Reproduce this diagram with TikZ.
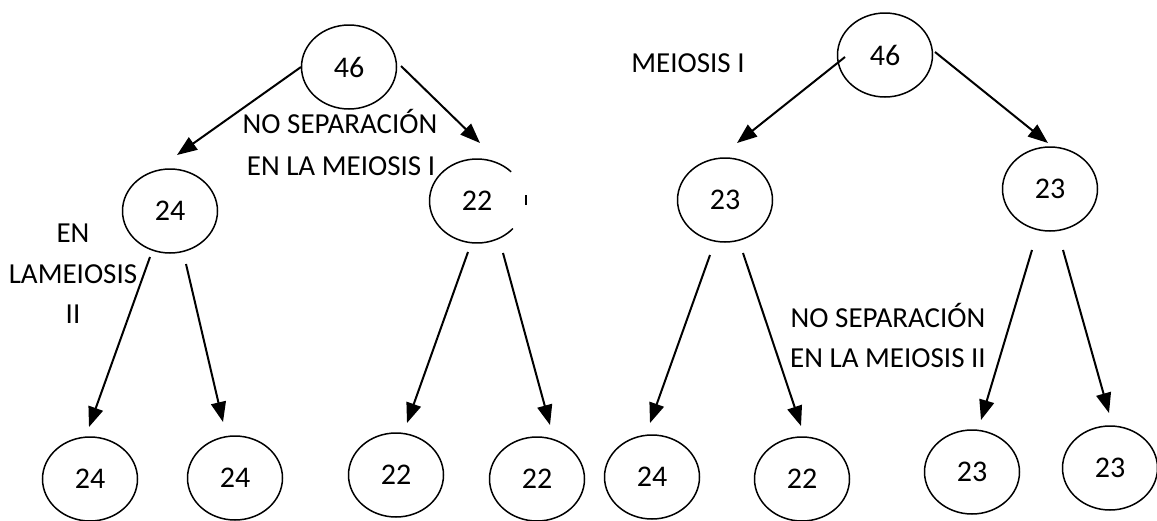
\documentclass[tikz,border=0pt]{standalone}
\usepackage{fontspec}
\setmainfont{Carlito}
\usetikzlibrary{arrows.meta,calc,shapes.geometric}
\tikzset{
  ell/.style={ellipse, draw, line width=1.5pt, minimum width=95pt, minimum height=84pt, inner sep=0pt, font=\fontsize{30}{32}\selectfont},
  ellnd/.style={ell, draw=none},
  circline/.style={line width=1.5pt},
  lbl/.style={inner sep=0pt, anchor=base, font=\fontsize{29}{31}\selectfont},
  arr/.style={line width=2pt, -{Triangle[length=20pt,width=15pt]}}
}
\begin{document}
\begin{tikzpicture}[x=1pt,y=-1pt]
\useasboundingbox (0,0) rectangle (1157,520);
% ellipses
\node[ell] (t1) at (349,67) {46};
\node[ell] (m1) at (170,211) {24};
\node[ellnd] (m2) at (477,201) {22};
\node[ell] (t2) at (885,55) {46};
\node[ell] (m3) at (725,200) {23};
\node[ell] (m4) at (1050,189) {23};
\node[ell] (b1) at (90,479) {24};
\node[ell] (b2) at (235,478) {24};
\node[ell] (b3) at (396,475) {22};
\node[ell] (b4) at (537,479) {22};
\node[ell] (b5) at (652,477) {24};
\node[ell] (b6) at (802,479) {22};
\node[ell] (b7) at (972,472) {23};
\node[ell] (b8) at (1110,468) {23};
% partial outline of m2
\draw[circline] (m2.center) ++(-44:47.5 and 42) arc[start angle=-44, end angle=-319, x radius=47.5, y radius=42];
\draw[circline] ($(m2.center)+(49,-6)$) -- ++(0,10);
% labels
\node[lbl] (l1) at (340,133) {NO SEPARACIÓN};
\node[lbl] (l2) at (341,175) {EN LA MEIOSIS I};
\node[lbl] (l3) at (688,72) {MEIOSIS I};
\node[lbl] (l4) at (73,242) {EN};
\node[lbl] (l5) at (73,283) {LAMEIOSIS};
\node[lbl] (l6) at (73,323) {II};
\node[lbl] (l7) at (888,327) {NO SEPARACIÓN};
\node[lbl] (l8) at (888,367) {EN LA MEIOSIS II};
% arrows
\draw[arr] ($(t1.center)+(-48,0)$) -- ($(m1.center)+(7,-56)$);
\draw[arr] ($(t1.center)+(52,-1)$) -- ($(m2.center)+(3,-58)$);
\draw[arr] ($(m1.center)+(-20,46)$) -- ($(b1.center)+(-1,-52)$);
\draw[arr] ($(m1.center)+(16,53)$) -- ($(b2.center)+(-12,-56)$);
\draw[arr] ($(m2.center)+(-9,51)$) -- ($(b3.center)+(11,-52)$);
\draw[arr] ($(m2.center)+(26,52)$) -- ($(b4.center)+(13,-54)$);
\draw[arr] ($(t2.center)+(-40,2)$) -- ($(m3.center)+(12,-57)$);
\draw[arr] ($(t2.center)+(50,-3)$) -- ($(m4.center)+(-2,-46)$);
\draw[arr] ($(m3.center)+(-15,55)$) -- ($(b5.center)+(-2,-54)$);
\draw[arr] ($(m3.center)+(18,53)$) -- ($(b6.center)+(-1,-53)$);
\draw[arr] ($(m4.center)+(-18,61)$) -- ($(b7.center)+(9,-52)$);
\draw[arr] ($(m4.center)+(13,61)$) -- ($(b8.center)+(-1,-55)$);
\end{tikzpicture}
\end{document}
